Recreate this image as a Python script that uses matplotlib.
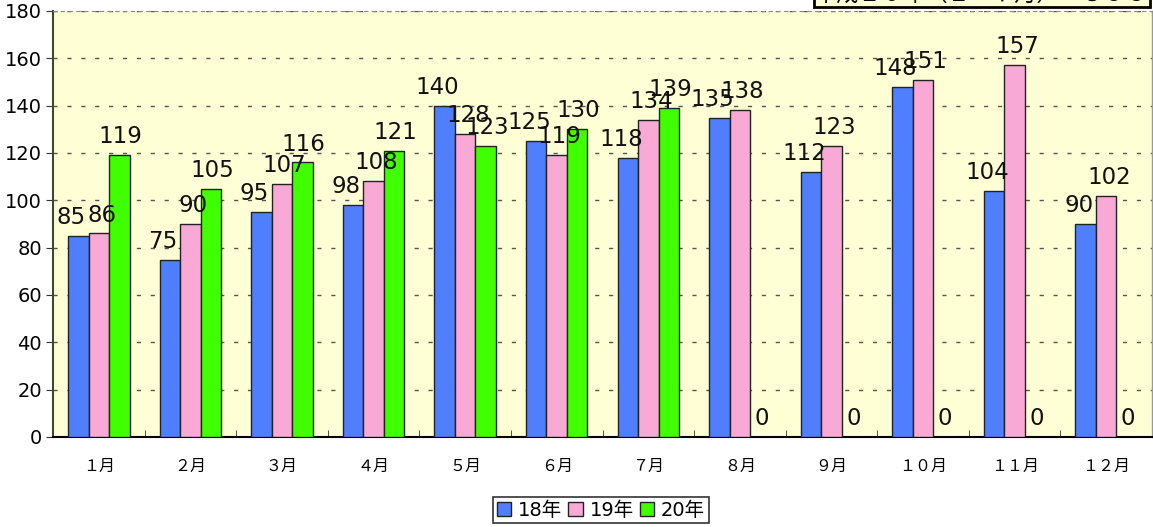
import matplotlib
matplotlib.use("Agg")
import matplotlib.pyplot as plt
import numpy as np

plt.rcParams['font.family'] = ['DejaVu Sans', 'Noto Sans CJK JP']

months = ["１月", "２月", "３月", "４月", "５月", "６月", "７月", "８月", "９月", "１０月", "１１月", "１２月"]
series_names = ["18年", "19年", "20年"]
v18 = [85, 75, 95, 98, 140, 125, 118, 135, 112, 148, 104, 90]
v19 = [86, 90, 107, 108, 128, 119, 134, 138, 123, 151, 157, 102]
v20 = [119, 105, 116, 121, 123, 130, 139, 0, 0, 0, 0, 0]
yticks = [0, 20, 40, 60, 80, 100, 120, 140, 160, 180]
title_text = "平成２０年（１－７月）＝８５３"

colors = ["#4F7FFF", "#F9A9D5", "#40FF00"]
label_dx = [-5, 2, 1]  # horizontal nudges (points) for value labels per series

fig = plt.figure(figsize=(11.53, 5.27), dpi=100)
ax = fig.add_axes([53/1153, 1-437/527, 1099/1153, 426/527])
ax.set_facecolor("#FFFFD5")

x = np.arange(len(months))
w = 0.224
for i, (vals, c, name) in enumerate(zip([v18, v19, v20], colors, series_names)):
    pos = x + (i - 1) * w
    ax.bar(pos, vals, width=w, color=c, edgecolor="#222222", linewidth=1.0,
           label=name, zorder=3)
    for px, v in zip(pos, vals):
        ax.annotate(str(v), (px, v), xytext=(label_dx[i], 5), textcoords="offset points",
                    ha="center", va="bottom", fontsize=16.5, color="#111111", zorder=5)

ax.set_xlim(-0.5, len(months) - 0.5)
ax.set_ylim(0, 180)
ax.set_yticks(yticks)
ax.set_yticklabels([str(t) for t in yticks], fontsize=14)
ax.set_xticks(x)
ax.set_xticklabels(months, fontsize=11.5, family=['Noto Sans CJK JP'])
ax.set_xticks(np.arange(len(months) + 1) - 0.5, minor=True)
ax.tick_params(axis="x", which="major", length=0, pad=15)
ax.tick_params(axis="x", which="minor", length=5, direction="in", color="#333333")
ax.tick_params(axis="y", which="major", length=5, direction="out", pad=3, color="#333333")

ax.yaxis.grid(True, linestyle=(0, (3, 7)), color="#555555", linewidth=1.0, zorder=1)
ax.set_axisbelow(True)

ax.spines["left"].set_color("#3a4a30")
ax.spines["left"].set_linewidth(1.5)
ax.spines["bottom"].set_color("#000000")
ax.spines["bottom"].set_linewidth(1.5)
ax.spines["top"].set_color("#888888")
ax.spines["top"].set_linestyle((0, (3, 4)))
ax.spines["right"].set_color("#999999")
ax.spines["right"].set_linewidth(1.0)

leg = fig.legend(loc="center", bbox_to_anchor=(601/1153, 1-510/527), ncol=3,
                 fontsize=14, frameon=True, fancybox=False, shadow=False,
                 handlelength=0.75, handleheight=0.75, handletextpad=0.35,
                 columnspacing=0.3, borderpad=0.2, borderaxespad=0)
leg.get_frame().set_edgecolor("#000000")
leg.get_frame().set_linewidth(1.2)

fig.text(1149/1153, 1 - 6/527, title_text, ha="right", va="bottom",
         fontsize=16, family=['Noto Sans CJK JP'],
         bbox=dict(facecolor="#FFFFD5", edgecolor="#000000", linewidth=2, pad=1))

fig.savefig("out.png", dpi=100)
